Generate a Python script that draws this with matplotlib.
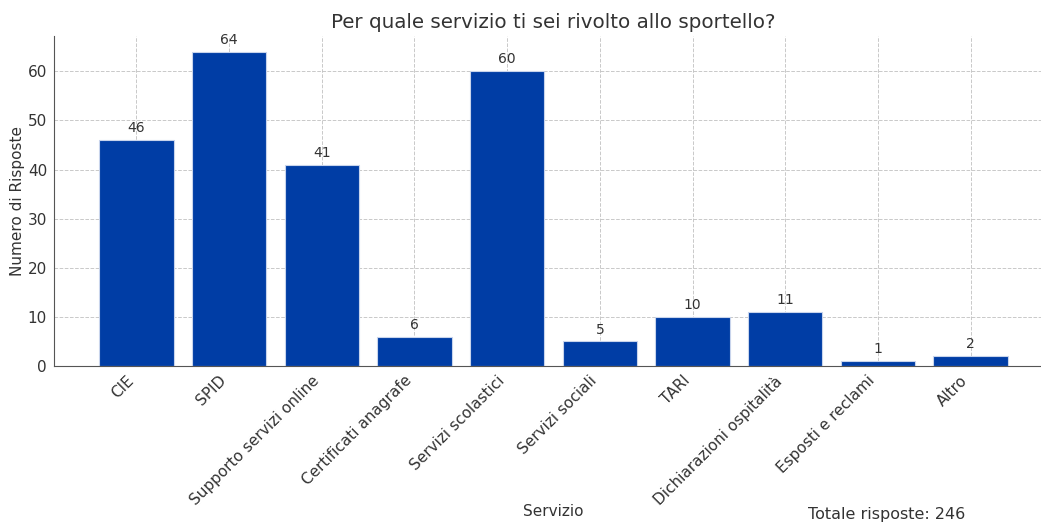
import matplotlib.pyplot as plt

servizi = ["CIE", "SPID", "Supporto servizi online", "Certificati anagrafe",
           "Servizi scolastici", "Servizi sociali", "TARI",
           "Dichiarazioni ospitalità", "Esposti e reclami", "Altro"]
risposte = [46, 64, 41, 6, 60, 5, 10, 11, 1, 2]
totale = 246

plt.rcParams['text.color'] = '#333333'
plt.rcParams['axes.labelcolor'] = '#333333'
plt.rcParams['xtick.color'] = '#333333'
plt.rcParams['ytick.color'] = '#333333'

fig = plt.figure(figsize=(10.41, 5.22), dpi=100)
ax = fig.add_axes([54/1041, 156/522, 999/1041, 330/522])

x = range(len(servizi))
bars = ax.bar(x, risposte, width=0.8, color='#003da5', edgecolor='#c8d4ec', linewidth=0.8, zorder=2)
for b, v in zip(bars, risposte):
    ax.text(b.get_x() + b.get_width()/2, v + 1, str(v), ha='center', va='bottom', fontsize=10, color='#333333')

ax.set_xlim(-0.89, 9.89)
ax.set_ylim(0, 67.2)
ax.set_xticks(list(x))
ax.set_xticklabels(servizi, rotation=45, ha='right', fontsize=11)
ax.tick_params(axis='x', direction='in', length=3, pad=5)
ax.tick_params(axis='y', labelsize=11, length=0, pad=5)
ax.set_yticks([0, 10, 20, 30, 40, 50, 60])
ax.grid(True, linestyle='--', color='#bbbbbb', linewidth=0.7, alpha=0.8, zorder=3)
for s in ['top', 'right']:
    ax.spines[s].set_visible(False)
ax.spines['left'].set_color('#555555')
ax.spines['bottom'].set_color('#555555')

ax.set_title("Per quale servizio ti sei rivolto allo sportello?", fontsize=14.3, pad=6)
ax.set_ylabel("Numero di Risposte", fontsize=11)
ax.yaxis.set_label_coords(-29/999, 0.5)
fig.text(553/1041, 1 - 512/522, "Servizio", ha='center', va='center', fontsize=11)
fig.text(887/1041, 1 - 515/522, f"Totale risposte: {totale}", ha='center', va='center', fontsize=11.5)

fig.savefig('out.png', dpi=100)
